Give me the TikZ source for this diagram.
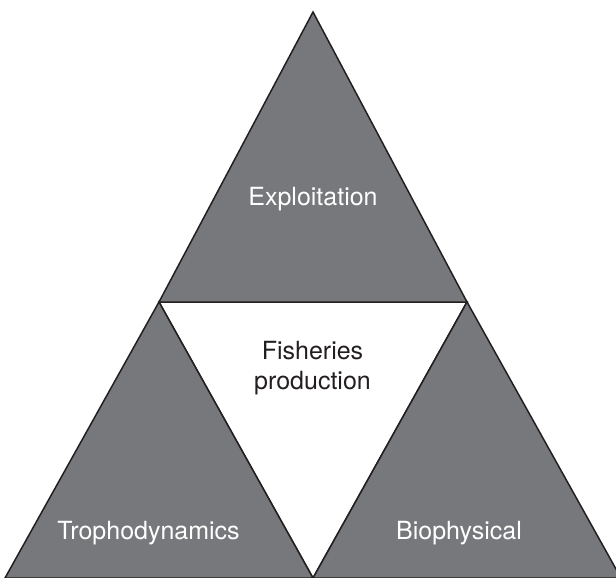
\documentclass[tikz,border=0pt]{standalone}
\usepackage{fontspec}
\setmainfont{TeX Gyre Heros}
\usepackage{xcolor}
\usepackage{tikz}
\usetikzlibrary{positioning}
\definecolor{slate}{HTML}{77787B}
\definecolor{ink}{HTML}{231F20}
\tikzset{
    part/.style={
        draw=ink,
        fill=slate,
        line width=1.5pt,
        line join=miter
    },
    hole/.style={
        draw=ink,
        fill=white,
        line width=1.5pt
    },
    label/.style={
        text=white,
        font=\fontsize{25}{29.5}\selectfont
    }
}
\begin{document}
\begin{tikzpicture}[x=1pt,y=-1pt]
          \useasboundingbox (0,0) rectangle (616,578);
          \coordinate (top) at (313,12);
          \coordinate (midleft) at (159,302);
          \coordinate (midright) at (467,302);
          \coordinate (baseleft) at (5,578);
          \coordinate (basemid) at (313,578);
          \coordinate (baseright) at (621,578);
          \draw [hole] (midleft) -- (midright) -- (basemid) -- cycle;
          \draw [part] (top) -- (midright) -- (midleft) -- cycle;
          \draw [part] (midleft) -- (basemid) -- (baseleft) -- cycle;
          \draw [part] (midright) -- (baseright) -- (basemid) -- cycle;
          \node (exploit) [label] at (313,199) {Exploitation};
          \node (tropho) [label] at (148.5,533) {Trophodynamics};
          \node (biophys) [label] at (459,533) {Biophysical};
          \node (fish) [label, text=ink, align=center] at (312.5,368) {Fisheries\\production};
        \end{tikzpicture}
\end{document}
